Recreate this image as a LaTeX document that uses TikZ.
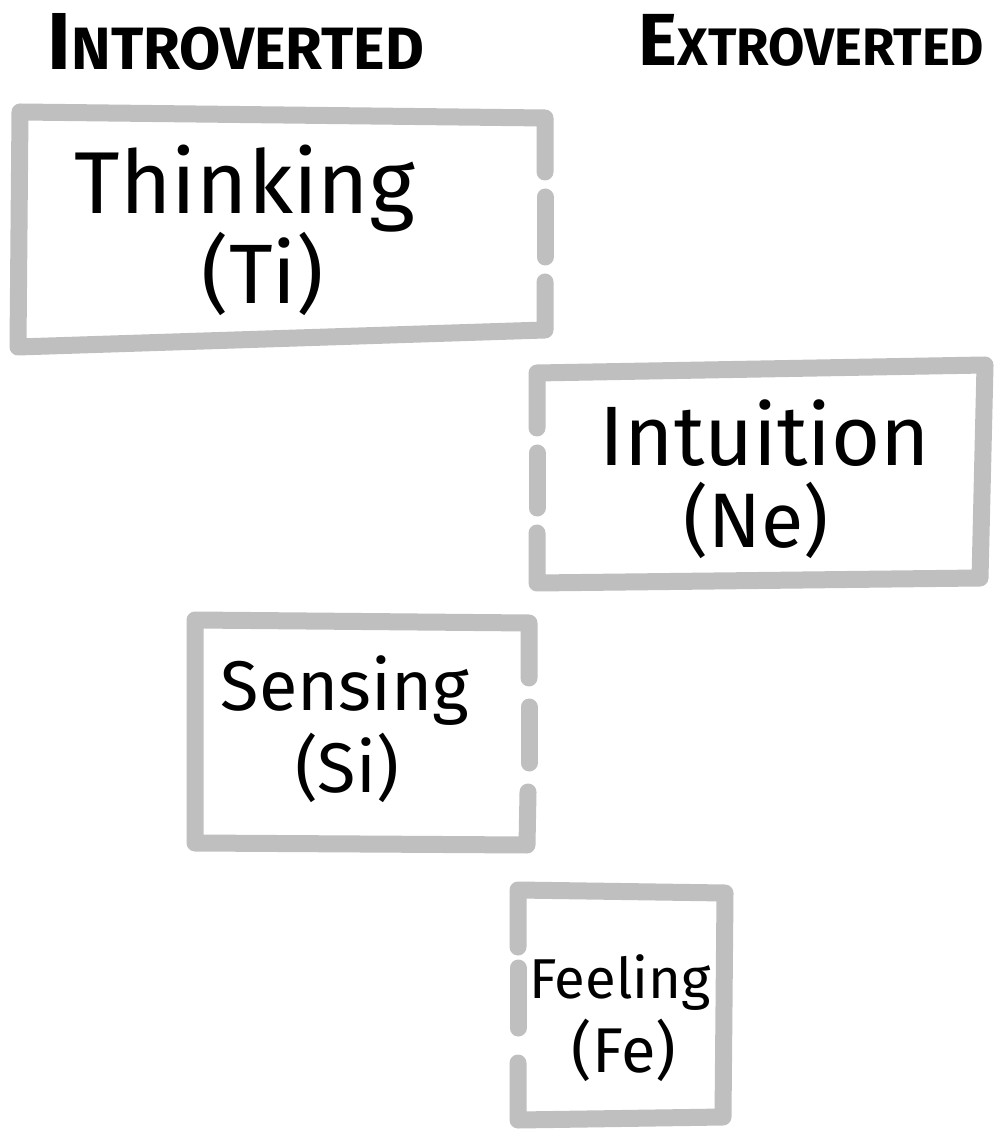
\documentclass[tikz,border=0pt]{standalone}
\usepackage{fontspec}
\setmainfont{Fira Sans}
\definecolor{boxgray}{RGB}{191,191,191}

\begin{document}
\begin{tikzpicture}[x=0.1mm,y=-0.1mm,
  fnframe/.style={boxgray,line width=1.7mm,line cap=round,line join=round},
  fnword/.style={anchor=base,inner sep=0pt},
  fnhead/.style={inner sep=0pt,font=\bfseries}]
  \useasboundingbox (0,0) rectangle (1001,1143);
  % cabeceras
  \node[fnhead,anchor=base west] (intro) at (47,70) {\fontsize{23}{23}\selectfont I\fontsize{17}{17}\selectfont NTROVERTED};
  \node[fnhead,anchor=base east] (extro) at (985,66) {\fontsize{21}{21}\selectfont E\fontsize{15}{15}\selectfont XTROVERTED};
  % Ti: lado derecho abierto
  \draw[fnframe] (545,172) -- (545,118) -- (20,112) -- (18,347) -- (545,330) -- (545,282);
  \draw[fnframe] (545,197) -- (545,257);
  \node[fnword,font=\fontsize{25}{25}\selectfont] (think) at (245,214) {Thinking};
  \node[fnword,font=\fontsize{24}{24}\selectfont] (ti) at (263,304) {(Ti)};
  % Ne: lado izquierdo abierto
  \draw[fnframe] (537,428) -- (537,373) -- (985,365) -- (980,578) -- (537,583) -- (537,533);
  \draw[fnframe] (537,453) -- (537,508);
  \node[fnword,font=\fontsize{24}{24}\selectfont] (intui) at (765,466) {Intuition};
  \node[fnword,font=\fontsize{22}{22}\selectfont] (ne) at (756,548) {(Ne)};
  % Si: lado derecho abierto
  \draw[fnframe] (529,678) -- (529,623) -- (195,620) -- (195,843) -- (527,845) -- (528,792);
  \draw[fnframe] (529,707) -- (529,763);
  \node[fnword,font=\fontsize{20}{20}\selectfont] (sens) at (345,710) {Sensing};
  \node[fnword,font=\fontsize{20}{20}\selectfont] (si) at (347,792) {(Si)};
  % Fe: lado izquierdo abierto
  \draw[fnframe] (518,947) -- (518,890) -- (725,893) -- (723,1117) -- (518,1120) -- (518,1063);
  \draw[fnframe] (518,968) -- (518,1028);
  \node[fnword,font=\fontsize{16}{16}\selectfont] (feel) at (620,998) {Feeling};
  \node[fnword,font=\fontsize{18}{18}\selectfont] (fe) at (624,1072) {(Fe)};
\end{tikzpicture}
\end{document}
